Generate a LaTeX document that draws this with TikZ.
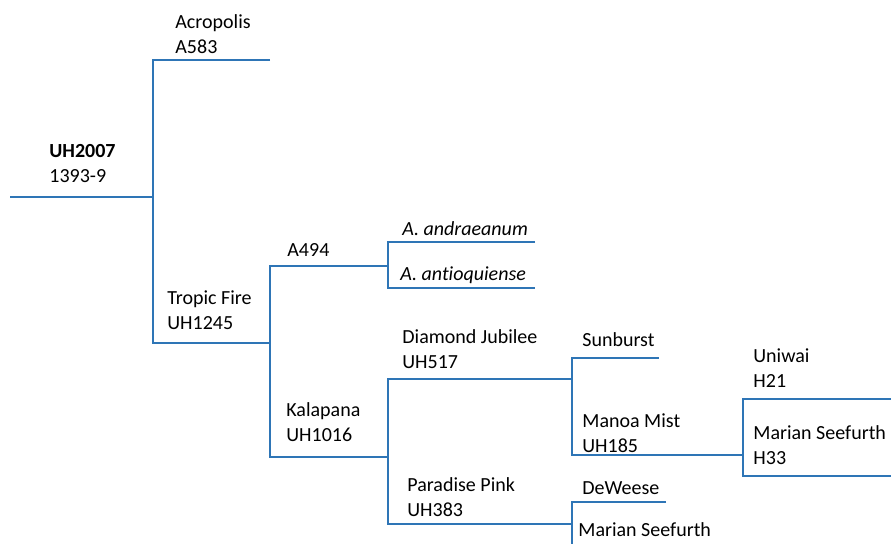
\documentclass[tikz,border=0pt]{standalone}
\usepackage{fontspec}
\setmainfont{Carlito}[Ligatures=NoCommon]
\usepackage{xcolor}
\usepackage{tikz}
\usetikzlibrary{positioning}
\definecolor{pedblue}{HTML}{2E75B6}

\begin{document}
\begin{tikzpicture}[x=0.5pt, y=-0.5pt,
  link/.style={pedblue, line width=1pt},
  cultivar/.style={anchor=base west, inner sep=0pt, align=left, font=\fontsize{10}{12.5}\selectfont},
]
\useasboundingbox (0,0) rectangle (891,544);

% root
\node[cultivar] (uh2007) at (49,183) {\textbf{UH2007}\\1393-9};
\coordinate (r0) at (10,197);
\coordinate (r1) at (153,197);
\draw[link] (r0) -- (r1);

% generation 1
\node[cultivar] (acropolis) at (175,54) {Acropolis\\A583};
\node[cultivar] (tropic) at (167,330) {Tropic Fire\\UH1245};
\coordinate (a1) at (153,60);
\coordinate (a2) at (270,60);
\coordinate (t1) at (153,343);
\coordinate (t2) at (270,343);
\draw[link] (a2) -- (a1) -- (t1) -- (t2);

% generation 2
\node[cultivar] (a494) at (287,257) {A494};
\node[cultivar] (kalapana) at (286,442) {Kalapana\\UH1016};
\coordinate (b1) at (270,266);
\coordinate (b2) at (388,266);
\coordinate (k1) at (270,457);
\coordinate (k2) at (388,457);
\draw[link] (b2) -- (b1) -- (k1) -- (k2);

% species
\node[cultivar] (andr) at (402,236) {\itshape A. andraeanum};
\node[cultivar] (anti) at (400,281) {\itshape A. antioquiense};
\coordinate (s1) at (388,242);
\coordinate (s2) at (535,242);
\coordinate (s3) at (388,288);
\coordinate (s4) at (535,288);
\draw[link] (s2) -- (s1) -- (s3) -- (s4);

% generation 3
\node[cultivar] (jubilee) at (402,369) {Diamond Jubilee\\UH517};
\node[cultivar] (paradise) at (407,517) {Paradise Pink\\UH383};
\coordinate (d1) at (388,379);
\coordinate (d2) at (572,379);
\coordinate (p1) at (388,524);
\coordinate (p2) at (572,524);
\draw[link] (d2) -- (d1) -- (p1) -- (p2);

% generation 4
\node[cultivar] (sunburst) at (582,347) {Sunburst};
\node[cultivar] (manoa) at (582,453) {Manoa Mist\\UH185};
\coordinate (e1) at (572,358);
\coordinate (e2) at (659,358);
\coordinate (m1) at (572,455);
\coordinate (m2) at (743,455);
\draw[link] (e2) -- (e1) -- (m1) -- (m2);

\node[cultivar] (deweese) at (582,495) {DeWeese};
\node[cultivar] (seefurthB) at (578,537) {Marian Seefurth};
\coordinate (w1) at (572,502);
\coordinate (w2) at (666,502);
\coordinate (w3) at (572,544);
\draw[link] (w2) -- (w1) -- (w3);

% generation 5
\node[cultivar] (uniwai) at (753,388) {Uniwai\\H21};
\node[cultivar] (seefurthA) at (753,465) {Marian Seefurth\\H33};
\coordinate (u1) at (743,399);
\coordinate (u2) at (891,399);
\coordinate (h1) at (743,476);
\coordinate (h2) at (891,476);
\draw[link] (u2) -- (u1) -- (h1) -- (h2);
\end{tikzpicture}
\end{document}
